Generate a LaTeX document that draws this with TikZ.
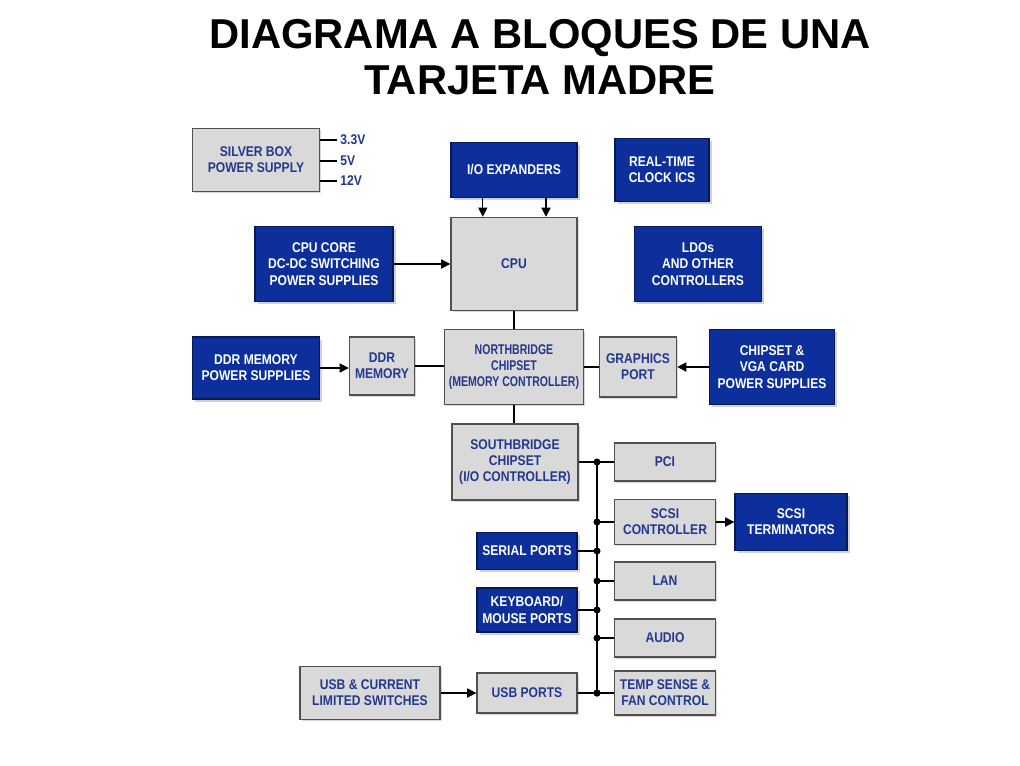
\documentclass[tikz,border=0pt]{standalone}
\usepackage{fontspec}
\setmainfont{Liberation Sans}
\newfontfamily\boxfont[FakeStretch=0.86]{Liberation Sans}
\newfontfamily\tightfont[FakeStretch=0.75]{Liberation Sans}
\usetikzlibrary{arrows.meta,positioning,calc,shadows}
\definecolor{chipblue}{HTML}{0C2F9C}
\definecolor{chipgray}{HTML}{D9D9D9}
\definecolor{labelblue}{HTML}{22388F}
\definecolor{edge}{HTML}{505050}

\tikzset{
  heading/.style={align=center, font=\bfseries\fontsize{29.7}{33}\selectfont, text=black},
  block/.style={draw=edge, line width=0.9pt, inner sep=1pt, align=center,
    font=\boxfont\bfseries\fontsize{10}{11.5}\selectfont},
  graybox/.style={block, fill=chipgray, text=labelblue,
    drop shadow={shadow xshift=1.2pt, shadow yshift=-1.2pt, fill=black!30}},
  bluebox/.style={block, fill=chipblue, draw=chipblue!55!black, text=white,
    drop shadow={shadow xshift=2pt, shadow yshift=-2pt, fill=black!35}},
  wire/.style={line width=0.9pt, draw=black},
  feed/.style={wire, -{Triangle[length=6.5pt, width=6.5pt]}},
  tap/.style={circle, fill=black, inner sep=0pt, minimum size=5pt},
  railtext/.style={font=\boxfont\bfseries\fontsize{10}{11.5}\selectfont, text=labelblue, inner sep=2pt}
}

\begin{document}
\begin{tikzpicture}[x=0.025cm, y=-0.025cm]
  \useasboundingbox[fill=white] (0,0) rectangle (1020,765);
  \node[heading] (title) at (540,57) {DIAGRAMA A BLOQUES DE UNA\\TARJETA MADRE};

  % top row: power and processor
  \node[graybox, minimum width=3.18cm, minimum height=1.58cm] (silver) at (256,160) {SILVER BOX\\POWER SUPPLY};
  \node[bluebox, minimum width=3.15cm, minimum height=1.38cm] (ioexp) at (514,170) {I/O EXPANDERS};
  \node[bluebox, minimum width=2.35cm, minimum height=1.58cm] (rtc) at (662,170) {REAL-TIME\\CLOCK ICS};
  \node[bluebox, minimum width=3.45cm, minimum height=1.88cm] (core) at (324,264) {CPU CORE\\DC-DC SWITCHING\\POWER SUPPLIES};
  \node[graybox, minimum width=3.15cm, minimum height=2.33cm] (cpu) at (514,264) {CPU};
  \node[bluebox, minimum width=3.18cm, minimum height=1.88cm] (ldo) at (698,264) {LDOs\\AND OTHER\\CONTROLLERS};

  % northbridge row
  \node[bluebox, minimum width=3.18cm, minimum height=1.55cm] (ddrps) at (256,368) {DDR MEMORY\\POWER SUPPLIES};
  \node[graybox, minimum width=1.63cm, minimum height=1.45cm] (ddrmem) at (382,366) {DDR\\MEMORY};
  \node[graybox, minimum width=3.48cm, minimum height=1.88cm, font=\tightfont\bfseries\fontsize{10}{11.5}\selectfont] (north) at (514,367) {NORTHBRIDGE\\CHIPSET\\(MEMORY CONTROLLER)};
  \node[graybox, minimum width=1.93cm, minimum height=1.5cm] (gport) at (638,367) {GRAPHICS\\PORT};
  \node[bluebox, minimum width=3.13cm, minimum height=1.88cm] (vgaps) at (772,367) {CHIPSET \&\\VGA CARD\\POWER SUPPLIES};

  % southbridge and peripherals
  \node[graybox, minimum width=3.15cm, minimum height=1.9cm] (south) at (515,462) {SOUTHBRIDGE\\CHIPSET\\(I/O CONTROLLER)};
  \node[graybox, minimum width=2.53cm, minimum height=0.95cm] (pci) at (665,462) {PCI};
  \node[graybox, minimum width=2.53cm, minimum height=1.13cm] (scsi) at (665,522) {SCSI\\CONTROLLER};
  \node[bluebox, minimum width=2.8cm, minimum height=1.43cm] (scsiterm) at (791,522) {SCSI\\TERMINATORS};
  \node[bluebox, minimum width=2.5cm, minimum height=0.93cm] (serial) at (527,551) {SERIAL PORTS};
  \node[graybox, minimum width=2.53cm, minimum height=0.95cm] (lan) at (665,581) {LAN};
  \node[bluebox, minimum width=2.5cm, minimum height=1.1cm] (keys) at (527,610) {KEYBOARD/\\MOUSE PORTS};
  \node[graybox, minimum width=2.53cm, minimum height=0.95cm] (audio) at (665,638) {AUDIO};
  \node[graybox, minimum width=2.5cm, minimum height=1.0cm] (usb) at (527,693) {USB PORTS};
  \node[graybox, minimum width=2.53cm, minimum height=1.1cm] (temp) at (665,693) {TEMP SENSE \&\\FAN CONTROL};
  \node[graybox, minimum width=3.5cm, minimum height=1.33cm] (usbsw) at (370,693) {USB \& CURRENT\\LIMITED SWITCHES};

  % supply rails
  \foreach \volt/\ypos in {3.3V/140, 5V/161, 12V/181} {
    \coordinate (rail\ypos) at (337,\ypos);
    \draw[wire] (silver.east |- rail\ypos) -- (rail\ypos) node[right, railtext] {\volt};
  }

  % connectors
  \draw[feed] ([xshift=-0.78cm]ioexp.south) -- ([xshift=-0.78cm]cpu.north);
  \draw[feed] ([xshift=0.8cm]ioexp.south) -- ([xshift=0.8cm]cpu.north);
  \draw[feed] (core.east) -- (cpu.west);
  \draw[wire] (cpu.south) -- (north.north);
  \draw[feed] (ddrps.east) -- (ddrps.east -| ddrmem.west);
  \draw[wire] (ddrmem.east) -- (ddrmem.east -| north.west);
  \draw[wire] (gport.west) -- (gport.west -| north.east);
  \draw[feed] (vgaps.west) -- (gport.east);
  \draw[wire] (north.south) -- (north.south |- south.north);
  \draw[feed] (scsi.east) -- (scsiterm.west);
  \draw[feed] (usbsw.east) -- (usb.west);

  % peripheral bus
  \coordinate (bustop) at (597,462);
  \coordinate (busbot) at (597,693);
  \draw[wire] (south.east) -- (pci.west);
  \draw[wire] (bustop) -- (busbot);
  \foreach \blk in {pci, scsi, lan, audio, temp}
    \draw[wire] (\blk.west) -- (\blk.west -| bustop) node[tap] {};
  \foreach \blk in {serial, keys, usb}
    \draw[wire] (\blk.east) -- (\blk.east -| bustop) node[tap] {};
\end{tikzpicture}
\end{document}
